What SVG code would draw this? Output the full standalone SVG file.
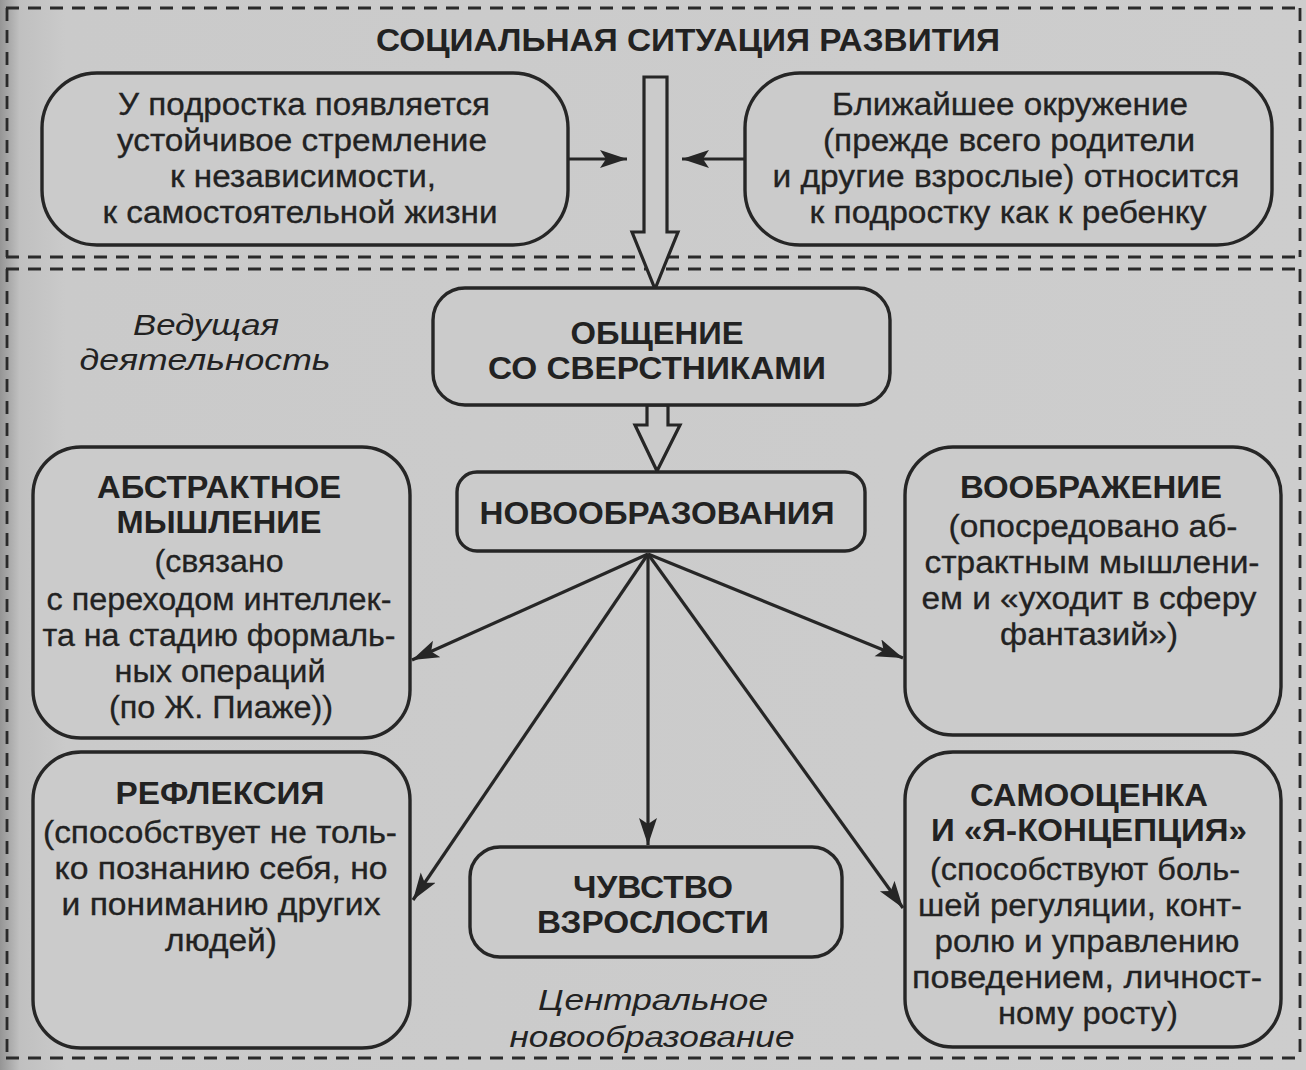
<svg xmlns="http://www.w3.org/2000/svg" width="1306" height="1070" viewBox="0 0 1306 1070">
<defs>
<style>
text{font-family:"Liberation Sans",Arial,sans-serif;fill:#222;text-anchor:middle}
.r{font-size:31px;stroke:#222;stroke-width:0.3}
.b{font-size:31px;font-weight:bold}
.i{font-size:30px;font-style:italic}
.box{fill:#cbcbcb;stroke:#262626;stroke-width:3.4}
.dash{fill:none;stroke:#2a2a2a;stroke-width:2.8;stroke-dasharray:13 9}
.ln{fill:none;stroke:#262626;stroke-width:3.2}
.blk{fill:#cbcbcb;stroke:#262626;stroke-width:3.2;stroke-linejoin:miter}
</style>
<marker id="ah" markerUnits="userSpaceOnUse" markerWidth="30" markerHeight="20" refX="27" refY="9" orient="auto">
<path d="M0,0 L27,9 L0,18 L6,9 Z" fill="#262626"/>
</marker>
<linearGradient id="edge" x1="0" y1="0" x2="1" y2="0">
<stop offset="0" stop-color="#959595"/>
<stop offset="0.015" stop-color="#c0c0c0"/>
<stop offset="0.05" stop-color="#cacaca"/>
<stop offset="1" stop-color="#cdcdcd"/>
</linearGradient>
</defs>
<rect width="1306" height="1070" fill="url(#edge)"/>

<g id="frame">
<line class="dash" x1="6" y1="8" x2="1300" y2="8"/>
<line class="dash" x1="7" y1="8" x2="7" y2="257"/>
<line class="dash" x1="1300" y1="8" x2="1300" y2="257"/>
<line class="dash" x1="6" y1="257" x2="1300" y2="257"/>
<line class="dash" x1="6" y1="269" x2="1300" y2="269"/>
<line class="dash" x1="7" y1="269" x2="7" y2="1058"/>
<line class="dash" x1="1300" y1="269" x2="1300" y2="1058"/>
<line class="dash" x1="6" y1="1058" x2="1300" y2="1058"/>
</g>

<g id="title">
<text class="b" x="688" y="51" textLength="624" lengthAdjust="spacingAndGlyphs">СОЦИАЛЬНАЯ СИТУАЦИЯ РАЗВИТИЯ</text>
</g>

<g id="connectors">
<polygon class="blk" points="644,77 667,77 667,232 678,232 655,289 632,232 644,232"/>
<polygon class="blk" points="647,405 668,405 668,425 680,425 657,471 635,425 647,425"/>
<line class="ln" x1="568" y1="159" x2="627" y2="159" marker-end="url(#ah)"/>
<line class="ln" x1="745" y1="159" x2="682" y2="159" marker-end="url(#ah)"/>
<line class="ln" x1="648" y1="554" x2="412" y2="660" marker-end="url(#ah)"/>
<line class="ln" x1="648" y1="554" x2="413" y2="900" marker-end="url(#ah)"/>
<line class="ln" x1="648" y1="554" x2="648" y2="845" marker-end="url(#ah)"/>
<line class="ln" x1="648" y1="554" x2="903" y2="658" marker-end="url(#ah)"/>
<line class="ln" x1="648" y1="554" x2="903" y2="908" marker-end="url(#ah)"/>
</g>

<g id="teen-strives">
<rect class="box" x="42" y="73" width="526" height="172" rx="55" ry="55"/>
<text class="r" x="304" y="115" textLength="372" lengthAdjust="spacingAndGlyphs">У подростка появляется</text>
<text class="r" x="302" y="151" textLength="370" lengthAdjust="spacingAndGlyphs">устойчивое стремление</text>
<text class="r" x="303" y="187" textLength="266" lengthAdjust="spacingAndGlyphs">к независимости,</text>
<text class="r" x="300" y="223" textLength="395" lengthAdjust="spacingAndGlyphs">к самостоятельной жизни</text>
</g>

<g id="environment">
<rect class="box" x="745" y="73" width="527" height="172" rx="55" ry="55"/>
<text class="r" x="1010" y="115" textLength="356" lengthAdjust="spacingAndGlyphs">Ближайшее окружение</text>
<text class="r" x="1009" y="151" textLength="372" lengthAdjust="spacingAndGlyphs">(прежде всего родители</text>
<text class="r" x="1006" y="187" textLength="467" lengthAdjust="spacingAndGlyphs">и другие взрослые) относится</text>
<text class="r" x="1008" y="223" textLength="397" lengthAdjust="spacingAndGlyphs">к подростку как к ребенку</text>
</g>

<g id="leading-label">
<text class="i" x="206" y="335" textLength="146" lengthAdjust="spacingAndGlyphs">Ведущая</text>
<text class="i" x="205" y="370" textLength="251" lengthAdjust="spacingAndGlyphs">деятельность</text>
</g>

<g id="peer-communication">
<rect class="box" x="433" y="288" width="457" height="117" rx="32" ry="32"/>
<text class="b" x="657" y="344" textLength="173" lengthAdjust="spacingAndGlyphs">ОБЩЕНИЕ</text>
<text class="b" x="657" y="379" textLength="338" lengthAdjust="spacingAndGlyphs">СО СВЕРСТНИКАМИ</text>
</g>

<g id="neoformations">
<rect class="box" x="457" y="472" width="408" height="79" rx="20" ry="20"/>
<text class="b" x="657" y="524" textLength="355" lengthAdjust="spacingAndGlyphs">НОВООБРАЗОВАНИЯ</text>
</g>

<g id="abstract-thinking">
<rect class="box" x="33" y="447" width="377" height="291" rx="48" ry="48"/>
<text class="b" x="219" y="498" textLength="244" lengthAdjust="spacingAndGlyphs">АБСТРАКТНОЕ</text>
<text class="b" x="219" y="533" textLength="205" lengthAdjust="spacingAndGlyphs">МЫШЛЕНИЕ</text>
<text class="r" x="219" y="572" textLength="129" lengthAdjust="spacingAndGlyphs">(связано</text>
<text class="r" x="219" y="610" textLength="345" lengthAdjust="spacingAndGlyphs">с переходом интеллек-</text>
<text class="r" x="219" y="646" textLength="353" lengthAdjust="spacingAndGlyphs">та на стадию формаль-</text>
<text class="r" x="220" y="682" textLength="211" lengthAdjust="spacingAndGlyphs">ных операций</text>
<text class="r" x="221" y="718" textLength="224" lengthAdjust="spacingAndGlyphs">(по Ж. Пиаже))</text>
</g>

<g id="reflection">
<rect class="box" x="33" y="752" width="377" height="296" rx="48" ry="48"/>
<text class="b" x="220" y="804" textLength="209" lengthAdjust="spacingAndGlyphs">РЕФЛЕКСИЯ</text>
<text class="r" x="220" y="843" textLength="354" lengthAdjust="spacingAndGlyphs">(способствует не толь-</text>
<text class="r" x="221" y="879" textLength="333" lengthAdjust="spacingAndGlyphs">ко познанию себя, но</text>
<text class="r" x="221" y="915" textLength="319" lengthAdjust="spacingAndGlyphs">и пониманию других</text>
<text class="r" x="221" y="951" textLength="112" lengthAdjust="spacingAndGlyphs">людей)</text>
</g>

<g id="imagination">
<rect class="box" x="905" y="447" width="376" height="288" rx="48" ry="48"/>
<text class="b" x="1091" y="498" textLength="262" lengthAdjust="spacingAndGlyphs">ВООБРАЖЕНИЕ</text>
<text class="r" x="1093" y="537" textLength="289" lengthAdjust="spacingAndGlyphs">(опосредовано аб-</text>
<text class="r" x="1092" y="573" textLength="335" lengthAdjust="spacingAndGlyphs">страктным мышлени-</text>
<text class="r" x="1089" y="609" textLength="335" lengthAdjust="spacingAndGlyphs">ем и «уходит в сферу</text>
<text class="r" x="1089" y="645" textLength="178" lengthAdjust="spacingAndGlyphs">фантазий»)</text>
</g>

<g id="self-esteem">
<rect class="box" x="905" y="752" width="376" height="295" rx="48" ry="48"/>
<text class="b" x="1089" y="806" textLength="238" lengthAdjust="spacingAndGlyphs">САМООЦЕНКА</text>
<text class="b" x="1089" y="841" textLength="316" lengthAdjust="spacingAndGlyphs">И «Я-КОНЦЕПЦИЯ»</text>
<text class="r" x="1085" y="880" textLength="310" lengthAdjust="spacingAndGlyphs">(способствуют боль-</text>
<text class="r" x="1080" y="916" textLength="324" lengthAdjust="spacingAndGlyphs">шей регуляции, конт-</text>
<text class="r" x="1087" y="952" textLength="305" lengthAdjust="spacingAndGlyphs">ролю и управлению</text>
<text class="r" x="1087" y="988" textLength="350" lengthAdjust="spacingAndGlyphs">поведением, личност-</text>
<text class="r" x="1088" y="1024" textLength="180" lengthAdjust="spacingAndGlyphs">ному росту)</text>
</g>

<g id="adulthood">
<rect class="box" x="470" y="847" width="372" height="110" rx="30" ry="30"/>
<text class="b" x="653" y="898" textLength="160" lengthAdjust="spacingAndGlyphs">ЧУВСТВО</text>
<text class="b" x="653" y="933" textLength="232" lengthAdjust="spacingAndGlyphs">ВЗРОСЛОСТИ</text>
</g>

<g id="central-label">
<text class="i" x="653" y="1010" textLength="230" lengthAdjust="spacingAndGlyphs">Центральное</text>
<text class="i" x="652" y="1047" textLength="285" lengthAdjust="spacingAndGlyphs">новообразование</text>
</g>
</svg>
